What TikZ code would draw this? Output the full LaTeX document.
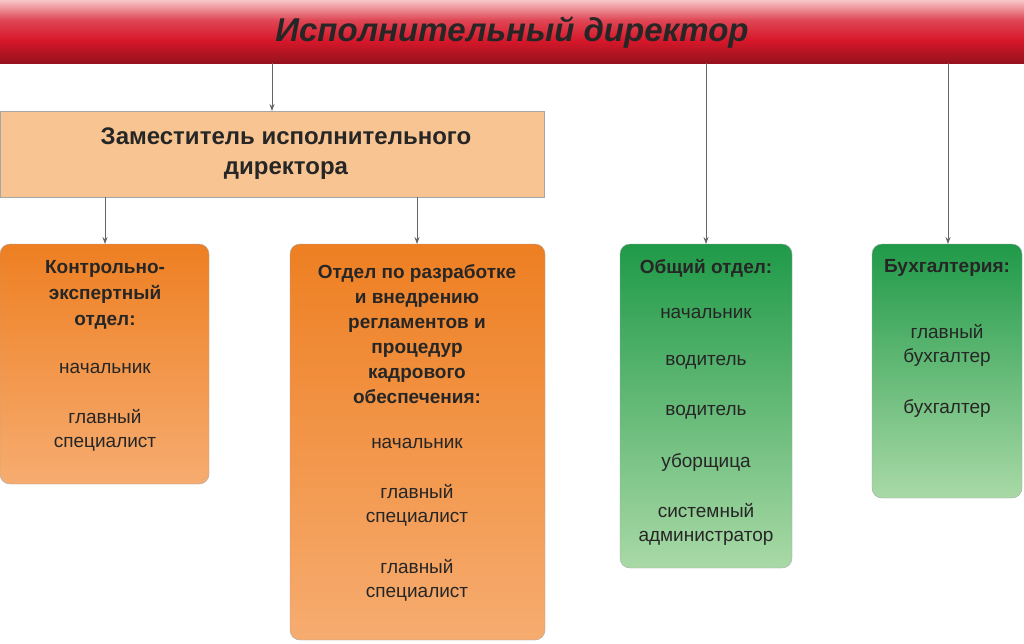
\documentclass[tikz,border=0pt]{standalone}
\usepackage{fontspec}
\setmainfont{Liberation Sans}
\usetikzlibrary{arrows.meta}
\definecolor{ortop}{HTML}{EE7F22}
\definecolor{orbot}{HTML}{F6AC70}
\definecolor{grtop}{HTML}{1F9A48}
\definecolor{grbot}{HTML}{A9D9A6}
\definecolor{redm}{HTML}{D7182A}
\definecolor{redl}{HTML}{F7C6C8}
\definecolor{dep}{HTML}{F8C592}
\begin{document}
\begin{tikzpicture}[x=1pt,y=-1pt,
 orbox/.style={draw=gray!70,rounded corners=10pt,top color=ortop,bottom color=orbot},
 grbox/.style={draw=gray!70,rounded corners=10pt,top color=grtop,bottom color=grbot},
 conn/.style={draw=gray!80!black,line width=0.8pt,-{Stealth[length=7pt,width=5pt]}},
 txt/.style={font=\fontsize{19}{24}\selectfont,align=center,text=black!85},
 btxt/.style={font=\fontsize{19}{26}\selectfont\bfseries,align=center,text=black!85}]
\useasboundingbox (0,0) rectangle (1024,643);
\fill[white] (0,0) rectangle (1024,643);
% top bar
\shade[top color=redl,bottom color=redm,middle color=redm!80!white,draw=none] (0,0) rectangle (1024,40);
\shade[top color=redm,bottom color=redm!70!black] (0,40) rectangle (1024,63);
\node[font=\fontsize{33}{36}\selectfont\bfseries\itshape,text=black!85] (top) at (512,33) {Исполнительный директор};
\coordinate (t1) at (272,63); \coordinate (t3) at (706,63); \coordinate (t4) at (948,63);
% deputy
\draw[draw=gray!70,fill=dep] (0,111) rectangle (544,197);
\node[font=\fontsize{24}{30}\selectfont\bfseries,align=center,text=black!85] (dep) at (286,154) {Заместитель исполнительного\\директора};
\coordinate (dt) at (272,111);
\coordinate (d1) at (105,197); \coordinate (d2) at (417,197);
% boxes
\draw[orbox] (0,244) rectangle (209,484);
\draw[orbox] (290,244) rectangle (545,640);
\draw[grbox] (620,244) rectangle (792,568);
\draw[grbox] (872,244) rectangle (1022,498);
\coordinate (b1) at (105,244); \coordinate (b2) at (417,244);
\coordinate (b3) at (706,244); \coordinate (b4) at (948,244);
\draw[conn] (t1) -- (dt);
\draw[conn] (d1) -- (b1);
\draw[conn] (d2) -- (b2);
\draw[conn] (t3) -- (b3);
\draw[conn] (t4) -- (b4);
% box 1
\node[btxt] (h1) at (105,295) {Контрольно-\\экспертный\\отдел:};
\node[txt] (a1) at (105,368) {начальник};
\node[txt] (a2) at (105,430) {главный\\специалист};
% box 2
\node[btxt,font=\fontsize{19}{25}\selectfont\bfseries] (h2) at (417,334) {Отдел по разработке\\и внедрению\\регламентов и\\процедур\\кадрового\\обеспечения:};
\node[txt] (c1) at (417,443) {начальник};
\node[txt] (c2) at (417,505) {главный\\специалист};
\node[txt] (c3) at (417,580) {главный\\специалист};
% box 3
\node[btxt] (h3) at (706,268) {Общий отдел:};
\node[txt] (e1) at (706,313) {начальник};
\node[txt] (e2) at (706,362) {водитель};
\node[txt] (e3) at (706,412) {водитель};
\node[txt] (e4) at (706,462) {уборщица};
\node[txt] (e5) at (706,524) {системный\\администратор};
% box 4
\node[btxt] (h4) at (947,268) {Бухгалтерия:};
\node[txt] (f1) at (947,345) {главный\\бухгалтер};
\node[txt] (f2) at (947,408) {бухгалтер};
\end{tikzpicture}
\end{document}
